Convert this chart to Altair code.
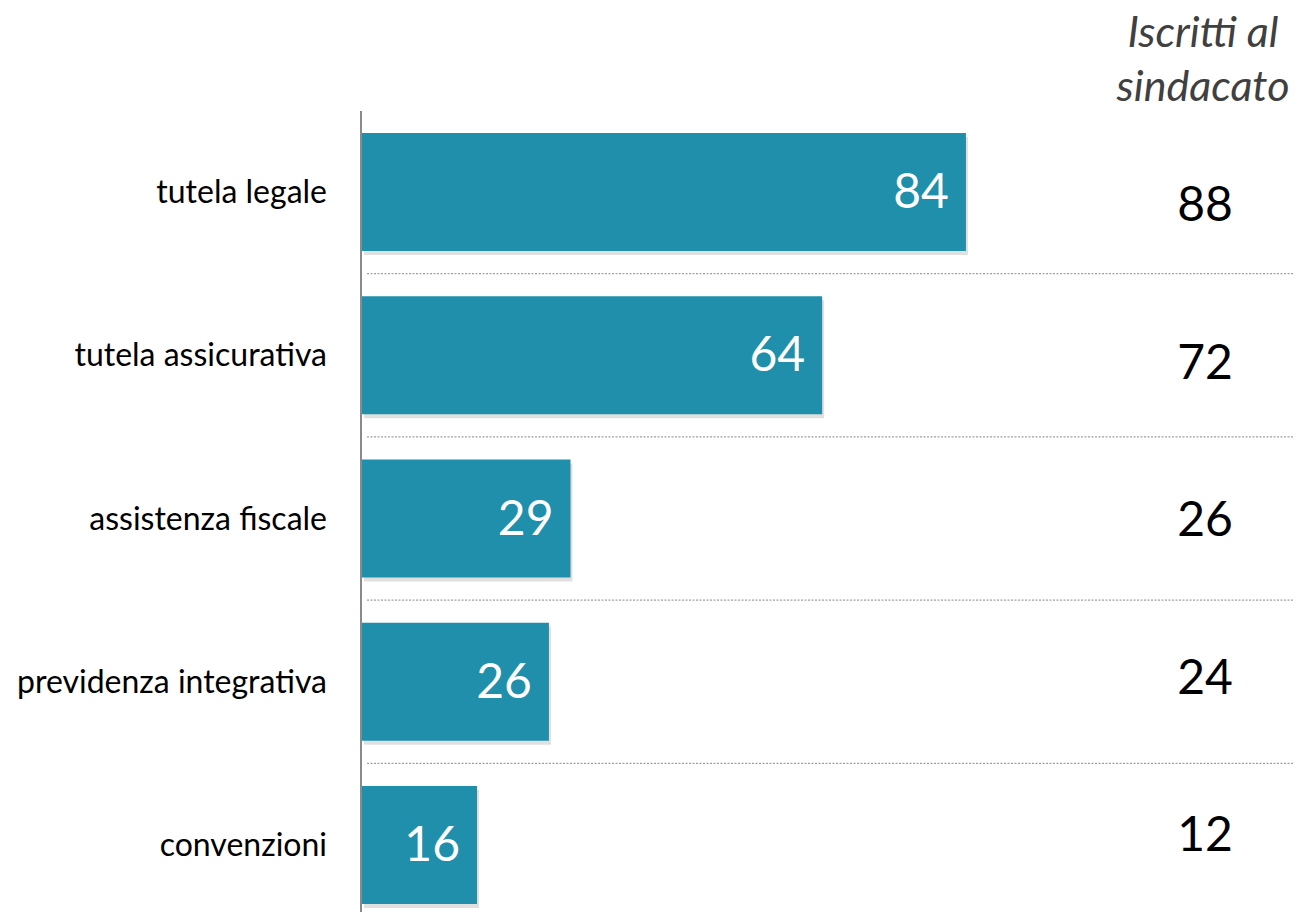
import altair as alt
import pandas as pd

categories = ["tutela legale", "tutela assicurativa", "assistenza fiscale",
              "previdenza integrativa", "convenzioni"]
totale = [84, 64, 29, 26, 16]
iscritti = [88, 72, 26, 24, 12]
header = ["Iscritti al", "sindacato"]

df = pd.DataFrame({"cat": categories, "tot": totale, "isc": iscritti})
sep_df = df.iloc[:-1]
hdr_df = pd.DataFrame({"h": [0]})

FONT = "Lato"
BAR = "#1f8fab"

yscale = alt.Scale(domain=categories, range=[102.3, 918.7], paddingInner=0, paddingOuter=0)
yscale_r = alt.Scale(domain=categories, range=[120.25, 907.75], paddingInner=0, paddingOuter=0)
xscale = alt.Scale(domain=[0, 100], range=[354, 1073])

Y = alt.Y("cat:N", sort=categories, scale=yscale, axis=None)
X = alt.X("tot:Q", scale=xscale, axis=None)

shadow = alt.Chart(df).mark_bar(
    height=alt.RelativeBandSize(0.723), color="#000000", opacity=0.12,
    xOffset=2, yOffset=4
).encode(x=X, y=Y)

bars = alt.Chart(df).mark_bar(
    height=alt.RelativeBandSize(0.723), color=BAR
).encode(x=X, y=Y)

inner = alt.Chart(df).mark_text(
    align="right", baseline="middle", dx=-17, dy=2, font=FONT, fontSize=48, color="white"
).encode(x=X, y=Y, text="tot:Q")

cats = alt.Chart(df).mark_text(
    align="right", baseline="middle", dy=1, font=FONT, fontSize=32, color="#000000"
).encode(x=alt.value(319), y=Y, text="cat:N")

seps = alt.Chart(sep_df).mark_rule(
    color="#a0a0a0", strokeWidth=1.2, strokeDash=[2, 1.5]
).encode(
    y=alt.Y("cat:N", sort=categories, scale=yscale, axis=None, bandPosition=1),
    x=alt.value(359), x2=alt.value(1285)
)

axis_line = alt.Chart(hdr_df).mark_rule(color="#8a8a8a", strokeWidth=2).encode(
    x=alt.value(353), y=alt.value(103), y2=alt.value(912)
)

right = alt.Chart(df).mark_text(
    align="center", baseline="middle", font=FONT, fontSize=48, color="#000000"
).encode(
    x=alt.value(1197),
    y=alt.Y("cat:N", sort=categories, scale=yscale_r, axis=None),
    text="isc:Q"
)

hdr = alt.Chart(hdr_df).mark_text(
    text=header, align="center", baseline="alphabetic", font=FONT, fontSize=43,
    fontStyle="italic", color="#404040", lineHeight=54
).encode(x=alt.value(1195), y=alt.value(39))

chart = alt.layer(shadow, bars, inner, cats, seps, axis_line, right, hdr).resolve_scale(
    y="independent"
).properties(
    width=1285, height=904, padding=0,
    autosize=alt.AutoSizeParams(type="none")
).configure_view(stroke=None)

chart.save("out.html", embed_options={"renderer": "svg", "actions": False})
